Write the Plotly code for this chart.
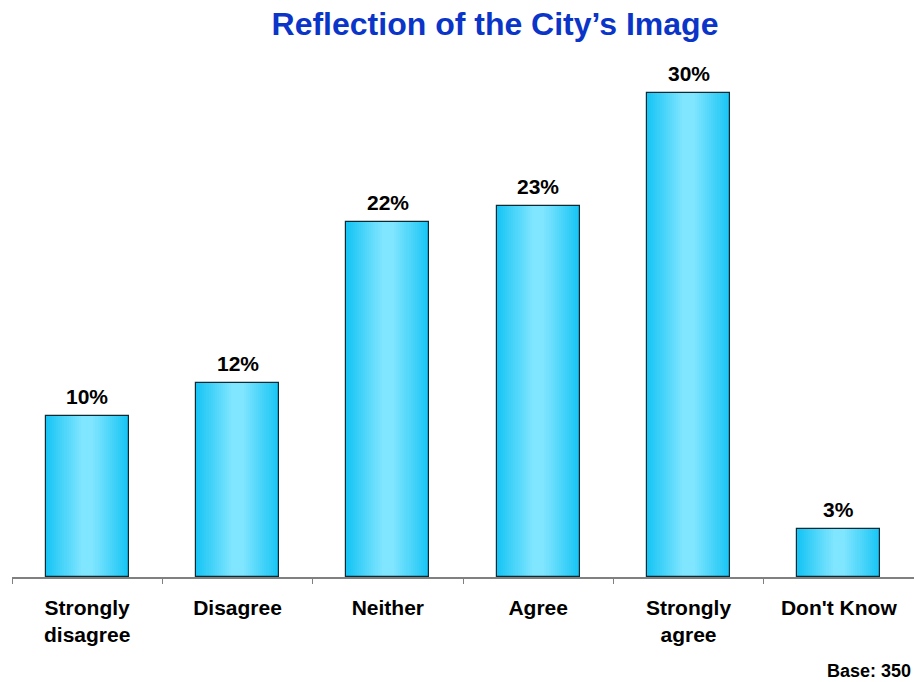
import plotly.graph_objects as go

# Survey responses
categories = ["Strongly<br>disagree", "Disagree", "Neither", "Agree", "Strongly<br>agree", "Don't Know"]
values = [10, 12, 22, 23, 30, 3]
value_labels = ["10%", "12%", "22%", "23%", "30%", "3%"]
base_note = "Base: 350"

FONT = "Liberation Sans, Arial, sans-serif"
BAR_WIDTH = 0.55
EDGE = (25, 197, 245)
CENTER = (128, 230, 255)
N_LAYERS = 18

fig = go.Figure()

# Horizontal cylinder-style shading built from nested, narrowing bars
for i in range(N_LAYERS):
    t = i / (N_LAYERS - 1)
    r, g, b = (round(EDGE[k] + (CENTER[k] - EDGE[k]) * t) for k in range(3))
    w = BAR_WIDTH * (1 - 0.9 * i / N_LAYERS)
    fig.add_trace(go.Bar(
        x=categories, y=values, width=w,
        marker=dict(color=f"rgb({r},{g},{b})", line=dict(width=0)),
        hoverinfo="skip", showlegend=False,
    ))

# Outline on top
fig.add_trace(go.Bar(
    x=categories, y=values, width=BAR_WIDTH,
    marker=dict(color="rgba(0,0,0,0)", line=dict(color="#0b2a33", width=1.2)),
    showlegend=False,
))

for c, v, lab in zip(categories, values, value_labels):
    fig.add_annotation(x=c, y=v, text=lab, showarrow=False, yanchor="bottom",
                       yshift=6, font=dict(family=FONT, size=21, color="black", weight="bold"))

fig.add_annotation(x=1, y=0, xref="paper", yref="paper", xanchor="right", yanchor="top",
                   yshift=-82, xshift=-1, text=base_note, showarrow=False,
                   font=dict(family=FONT, size=18, color="black", weight="bold"))

fig.update_layout(
    width=914, height=682,
    barmode="overlay",
    bargap=0,
    plot_bgcolor="white", paper_bgcolor="white",
    margin=dict(l=12, r=0, t=60, b=105),
    title=dict(text="Reflection of the City\u2019s Image", x=495/914, xanchor="center",
               y=1 - 24/682, yanchor="middle",
               font=dict(family=FONT, size=32, color="#0a35c8", weight="bold")),
    xaxis=dict(type="category", tickson="boundaries", ticks="outside", ticklen=5,
               tickcolor="#808080", showline=True, linecolor="#808080", linewidth=1.5,
               showgrid=False, ticklabelstandoff=11,
               tickfont=dict(family=FONT, size=21, color="black", weight="bold")),
    yaxis=dict(range=[0, 32.05], visible=False, showgrid=False),
)

fig.write_html("out.html")
